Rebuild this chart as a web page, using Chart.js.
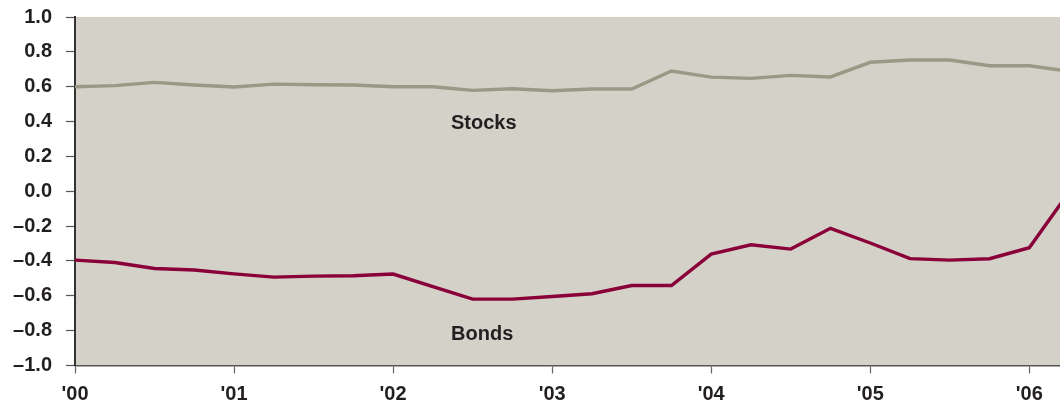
<!DOCTYPE html>
<html>
<head>
<meta charset="utf-8">
<script src="https://cdn.jsdelivr.net/npm/chart.js@4.4.1/dist/chart.umd.min.js"></script>
<style>
  html, body { margin: 0; padding: 0; background: #ffffff; }
  #wrap { width: 1060px; height: 403px; position: relative; }
</style>
</head>
<body>
<div id="wrap"><canvas id="c"></canvas></div>
<script>
// Quarterly observations, 2000 Q1 onward
const quarters = [2000, 2000.25, 2000.5, 2000.75, 2001, 2001.25, 2001.5, 2001.75,
  2002, 2002.25, 2002.5, 2002.75, 2003, 2003.25, 2003.5, 2003.75,
  2004, 2004.25, 2004.5, 2004.75, 2005, 2005.25, 2005.5, 2005.75,
  2006, 2006.25];
const stocks = [0.60, 0.606, 0.625, 0.61, 0.598, 0.615, 0.611, 0.61,
  0.60, 0.60, 0.579, 0.588, 0.577, 0.587, 0.587, 0.69,
  0.655, 0.648, 0.665, 0.656, 0.74, 0.753, 0.753, 0.72,
  0.72, 0.689];
const bonds = [-0.395, -0.409, -0.443, -0.452, -0.474, -0.493, -0.487, -0.485,
  -0.475, -0.548, -0.619, -0.619, -0.604, -0.588, -0.541, -0.541,
  -0.361, -0.307, -0.332, -0.213, -0.297, -0.387, -0.395, -0.387,
  -0.324, -0.005];
const yearTicks = [2000, 2001, 2002, 2003, 2004, 2005, 2006];
const yearLabels = ["'00", "'01", "'02", "'03", "'04", "'05", "'06"];
const yTicks = [-1.0, -0.8, -0.6, -0.4, -0.2, 0.0, 0.2, 0.4, 0.6, 0.8, 1.0];
const seriesNames = ["Stocks", "Bonds"];
const labelAnchors = [[2002.57, 0.39], [2002.56, -0.82]];

const FONT = "'Liberation Sans', Arial, sans-serif";
const TEXT = '#231f20';

const bgPlugin = {
  id: 'bg',
  beforeDraw(chart) {
    const {ctx, chartArea: a} = chart;
    ctx.save();
    ctx.fillStyle = '#d4d1c8';
    ctx.fillRect(a.left, a.top, a.right - a.left, a.bottom - a.top);
    ctx.restore();
  },
  afterDatasetsDraw(chart) {
    const {ctx} = chart;
    const xs = chart.scales.x, ys = chart.scales.y;
    ctx.save();
    ctx.fillStyle = TEXT;
    ctx.font = 'bold 20px ' + FONT;
    ctx.textAlign = 'center';
    ctx.textBaseline = 'middle';
    seriesNames.forEach((n, i) => {
      ctx.fillText(n, xs.getPixelForValue(labelAnchors[i][0]), ys.getPixelForValue(labelAnchors[i][1]));
    });
    ctx.restore();
  }
};

const mk = arr => quarters.map((q, i) => ({x: q, y: arr[i]}));

new Chart(document.getElementById('c'), {
  type: 'line',
  data: {
    datasets: [
      {label: seriesNames[0], data: mk(stocks), borderColor: '#999985', borderWidth: 3.4,
       pointRadius: 0, tension: 0, fill: false},
      {label: seriesNames[1], data: mk(bonds), borderColor: '#8a0038', borderWidth: 3.4,
       pointRadius: 0, tension: 0, fill: false}
    ]
  },
  options: {
    responsive: true,
    maintainAspectRatio: false,
    animation: false,
    events: [],
    layout: {padding: {top: 17, left: 0, right: 0, bottom: 0}},
    plugins: {legend: {display: false}, tooltip: {enabled: false}},
    scales: {
      x: {
        type: 'linear',
        min: 2000,
        max: 2006.193,
        afterBuildTicks: s => { s.ticks = yearTicks.map(v => ({value: v})); },
        afterFit: s => { s.height = 37.5; s.paddingLeft = 0; s.paddingRight = 0; },
        ticks: {
          autoSkip: false, maxRotation: 0, padding: 9, color: TEXT,
          font: {family: FONT, size: 20, weight: 'bold'},
          callback: (v) => { const i = yearTicks.indexOf(v); return i >= 0 ? yearLabels[i] : ''; }
        },
        grid: {drawOnChartArea: false, drawTicks: true, tickLength: 8, color: '#666666', tickWidth: 1.2},
        border: {display: true, color: '#555555', width: 1.5}
      },
      y: {
        min: -1, max: 1,
        afterBuildTicks: s => { s.ticks = yTicks.map(v => ({value: v})); },
        afterFit: s => { s.width = 75; s.paddingTop = 0; s.paddingBottom = 0; },
        ticks: {
          padding: 14, color: TEXT,
          font: {family: FONT, size: 20, weight: 'bold'},
          callback: (v) => (v < -1e-9 ? '\u2013' + Math.abs(v).toFixed(1) : Math.abs(v).toFixed(1))
        },
        grid: {drawOnChartArea: false, drawTicks: true, tickLength: 9, color: '#555555', tickWidth: 1.2},
        border: {display: true, color: '#333333', width: 2}
      }
    }
  },
  plugins: [bgPlugin]
});
</script>
</body>
</html>
